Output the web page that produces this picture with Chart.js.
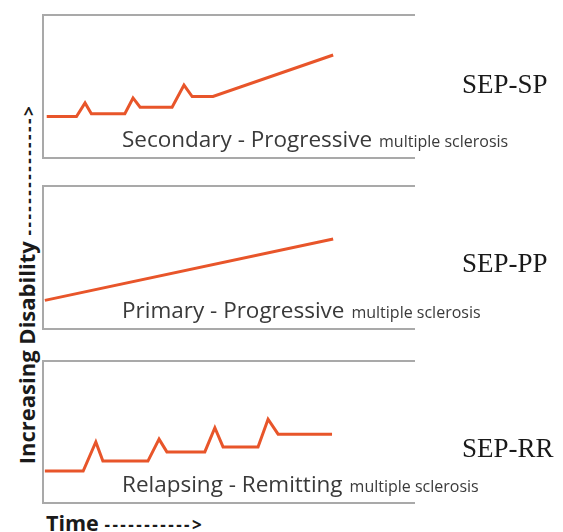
<!DOCTYPE html>
<html>
<head>
<meta charset="utf-8">
<script src="https://cdn.jsdelivr.net/npm/chart.js@4.4.0/dist/chart.umd.min.js"></script>
<style>
  body { margin: 0; background: #fff; width: 563px; height: 532px; position: relative; overflow: hidden; }
  .panel { position: absolute; left: 0; width: 563px; }
  .axis-y {
    position: absolute; left: -177px; top: 272px; width: 400px; height: 24px; line-height: 24px;
    text-align: center; white-space: nowrap; transform: rotate(-90deg);
    font: bold 22px "Open Sans", sans-serif; color: #1a1a1a;
  }
  .axis-x {
    position: absolute; left: 46px; top: 508px; line-height: 24px; white-space: nowrap;
    font: bold 21.5px "Open Sans", sans-serif; color: #1a1a1a;
  }
  .dash { letter-spacing: 2.5px; font-size: 17px; }
</style>
</head>
<body>

<div class="axis-y">Increasing Disability <span class="dash">---------------&gt;</span></div>
<div class="axis-x">Time <span class="dash">-----------&gt;</span></div>

<div class="panel" style="top:5px;height:163px"><canvas id="sp"></canvas></div>
<div class="panel" style="top:176px;height:163px"><canvas id="pp"></canvas></div>
<div class="panel" style="top:351px;height:162px"><canvas id="rr"></canvas></div>

<script>
// ===== Data (time 0-100 across the box, disability 0-10 from bottom to top) =====
const spTime       = [1, 9, 11.3, 13, 22, 24.2, 26.1, 34.7, 37.9, 40.1, 45.7, 78];
const spDisability = [2.9, 2.9, 3.85, 3.1, 3.1, 4.2, 3.55, 3.55, 5.1, 4.3, 4.3, 7.2];

const ppTime       = [0.5, 78];
const ppDisability = [2.0, 6.3];

const rrTime       = [0.5, 10.8, 14.2, 16.1, 28.2, 31.2, 33.3, 43.5, 46.2, 48.4, 57.8, 60.5, 63.2, 77.7];
const rrDisability = [2.25, 2.25, 4.3, 2.95, 2.95, 4.5, 3.6, 3.6, 5.3, 3.95, 3.95, 5.9, 4.85, 4.85];

const panelIds    = ['sp', 'pp', 'rr'];
const panelCodes  = ['SEP-SP', 'SEP-PP', 'SEP-RR'];
const panelTitles = ['Secondary - Progressive', 'Primary - Progressive', 'Relapsing - Remitting'];
const panelNote   = 'multiple sclerosis';
const codeOffsets = [78, 86, 96]; // baseline of the code below the box top

const series = [
    [spTime, spDisability],
    [ppTime, ppDisability],
    [rrTime, rrDisability]
];

// box lines + captions drawn around the chart area
const boxPlugin = {
    id: 'box',
    beforeDatasetsDraw(chart, args, opts) {
        const { ctx, chartArea: a } = chart;
        ctx.save();
        ctx.strokeStyle = '#a9a9a9';
        ctx.lineWidth = 2;
        ctx.beginPath();
        ctx.moveTo(a.right, a.top);
        ctx.lineTo(a.left, a.top);
        ctx.lineTo(a.left, a.bottom);
        ctx.lineTo(a.right, a.bottom);
        ctx.stroke();

        ctx.fillStyle = '#3a3a3a';
        ctx.textBaseline = 'alphabetic';
        ctx.font = '22.5px "Open Sans", sans-serif';
        ctx.fillText(opts.title, 122, a.bottom - 11);
        const w = ctx.measureText(opts.title).width;
        ctx.font = '16px "Open Sans", sans-serif';
        ctx.fillText(panelNote, 122 + w + 7, a.bottom - 11);

        ctx.fillStyle = '#1a1a1a';
        ctx.font = '27px "Liberation Serif", serif';
        ctx.fillText(opts.code, 462, a.top + opts.codeY);
        ctx.restore();
    }
};

function makePanel(i) {
    const [xs, ys] = series[i];
    const points = xs.map((x, k) => ({ x: x, y: ys[k] }));
    new Chart(document.getElementById(panelIds[i]), {
        type: 'line',
        data: {
            datasets: [{
                data: points,
                borderColor: '#e8552a',
                borderWidth: 3,
                pointRadius: 0,
                tension: 0,
                fill: false
            }]
        },
        options: {
            responsive: true,
            maintainAspectRatio: false,
            animation: false,
            layout: { padding: { left: 43, right: 148, top: 10, bottom: 10 } },
            scales: {
                x: { type: 'linear', min: 0, max: 100, display: false },
                y: { type: 'linear', min: 0, max: 10, display: false }
            },
            plugins: {
                legend: { display: false },
                tooltip: { enabled: false },
                box: { title: panelTitles[i], code: panelCodes[i], codeY: codeOffsets[i] }
            }
        },
        plugins: [boxPlugin]
    });
}

Promise.all([
    document.fonts.load('22px "Open Sans"'),
    document.fonts.load('bold 22px "Open Sans"'),
    document.fonts.load('27px "Liberation Serif"')
]).finally(() => {
    panelIds.forEach((id, i) => makePanel(i));
});
</script>
</body>
</html>
